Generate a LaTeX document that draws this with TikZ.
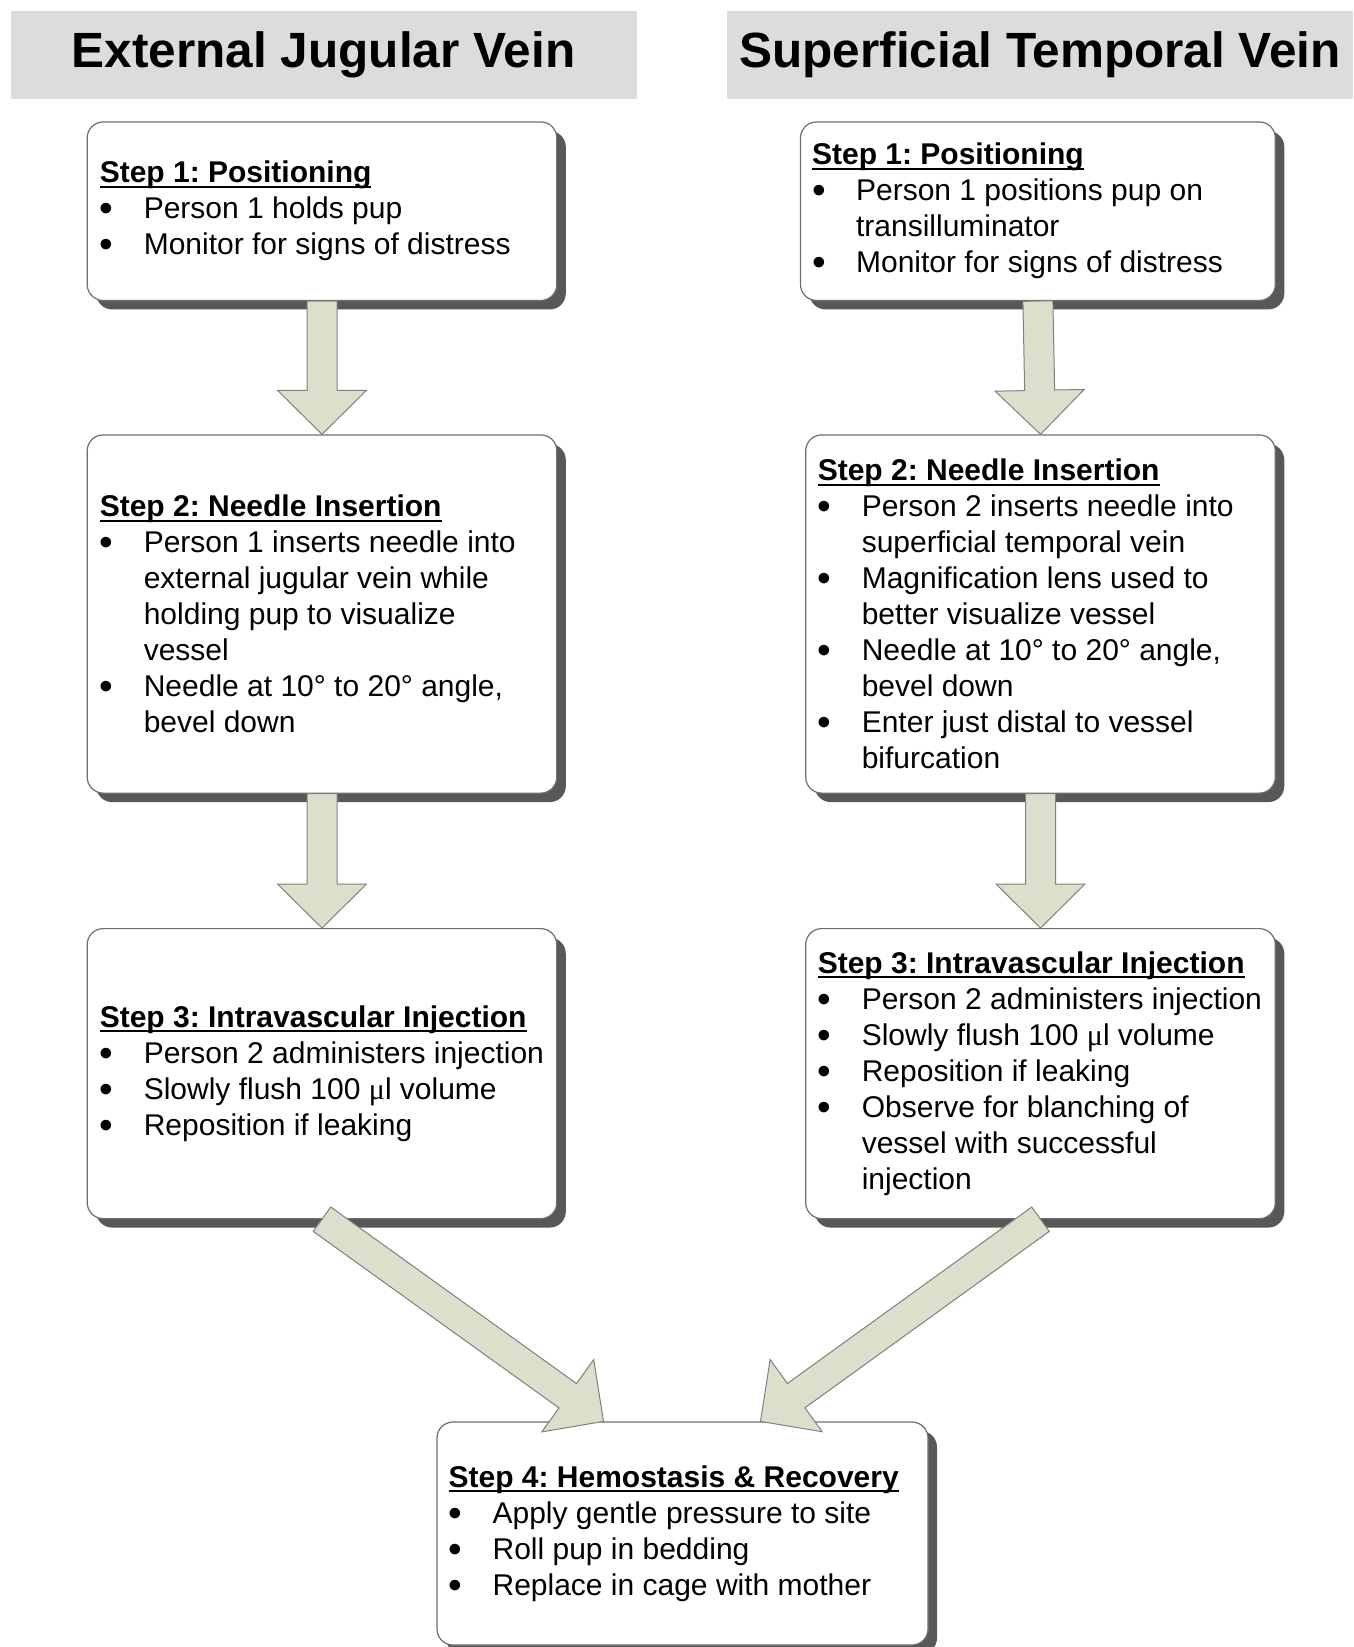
\documentclass[tikz,border=0pt]{standalone}
\usepackage{fontspec}
\setmainfont{Liberation Sans}
\newfontfamily\serifmu{Liberation Serif}
\usetikzlibrary{shadows,calc}
\frenchspacing
\definecolor{hdr}{RGB}{220,220,220}
\definecolor{shad}{RGB}{88,88,88}
\definecolor{arrfill}{RGB}{220,223,204}
\definecolor{arrline}{RGB}{128,128,128}
\definecolor{boxline}{RGB}{110,110,110}
\newsavebox\titlebox
\newcommand{\stitle}[1]{\sbox\titlebox{\bfseries #1}\rlap{\rule[-5pt]{\wd\titlebox}{2pt}}\usebox\titlebox}
\newcommand{\bitem}[1]{\makebox[44pt][l]{\raisebox{-3pt}{\scalebox{1.3}{\textbullet}}}#1}
\newcommand{\cont}[1]{\hspace*{44pt}#1}
\newcommand{\mul}{{\serifmu μ}}
\newcommand{\barrow}[2]{%
  \coordinate (hA) at ($(#2)!44pt!(#1)$);
  \draw[blockarrow] ($(#1)!15pt!90:(#2)$) -- ($(hA)!15pt!90:(#2)$) -- ($(hA)!44.5pt!90:(#2)$) -- (#2)
    -- ($(hA)!44.5pt!-90:(#2)$) -- ($(hA)!15pt!-90:(#2)$) -- ($(#1)!15pt!-90:(#2)$) -- cycle;}
\tikzset{
  stepbox/.style={draw=boxline, line width=1.2pt, fill=white, rounded corners=16pt, inner sep=0pt,
    drop shadow={shadow xshift=9pt, shadow yshift=-9pt, fill=shad, opacity=1}},
  steptext/.style={anchor=west, inner sep=0pt, align=left, font=\fontsize{30}{36}\selectfont\frenchspacing},
  header/.style={fill=hdr, inner sep=0pt, font=\fontsize{49.5}{55}\selectfont\bfseries},
  blockarrow/.style={fill=arrfill, draw=arrline, line width=1pt, line join=miter}
}
\begin{document}
\begin{tikzpicture}[x=1pt,y=-1pt]
\useasboundingbox (0,0) rectangle (1353,1647);
\fill[white] (0,0) rectangle (1353,1647);
% headers
\node[header, minimum width=626pt, minimum height=88pt] (hL) at (323.5,54.6) {External Jugular Vein};
\node[header, minimum width=626pt, minimum height=88pt] (hR) at (1040,54.6) {Superficial Temporal Vein};
% boxes
\node[stepbox, minimum width=469.6pt, minimum height=178.5pt] (L1) at (322,211.2) {};
\node[stepbox, minimum width=469.6pt, minimum height=358.2pt] (L2) at (322,614) {};
\node[stepbox, minimum width=469.6pt, minimum height=290pt] (L3) at (322,1073.6) {};
\node[stepbox, minimum width=474.8pt, minimum height=178.5pt] (R1) at (1037.9,211.2) {};
\node[stepbox, minimum width=469.6pt, minimum height=358.2pt] (R2) at (1040.5,614) {};
\node[stepbox, minimum width=469.6pt, minimum height=290pt] (R3) at (1040.5,1073.6) {};
\node[stepbox, minimum width=491pt, minimum height=223pt] (B) at (682.5,1533.5) {};
% texts
\node[steptext] (L1t) at ([xshift=13pt]L1.west) {\stitle{Step 1: Positioning}\\
\bitem{Person 1 holds pup}\\
\bitem{Monitor for signs of distress}};
\node[steptext] (L2t) at ([xshift=13pt]L2.west) {\stitle{Step 2: Needle Insertion}\\
\bitem{Person 1 inserts needle into}\\
\cont{external jugular vein while}\\
\cont{holding pup to visualize}\\
\cont{vessel}\\
\bitem{Needle at 10° to 20° angle,}\\
\cont{bevel down}};
\node[steptext] (L3t) at ([xshift=13pt]L3.west) {\stitle{Step 3: Intravascular Injection}\\
\bitem{Person 2 administers injection}\\
\bitem{Slowly flush 100 \mul l volume}\\
\bitem{Reposition if leaking}};
\node[steptext] (R1t) at ([xshift=12pt]R1.west) {\stitle{Step 1: Positioning}\\
\bitem{Person 1 positions pup on}\\
\cont{transilluminator}\\
\bitem{Monitor for signs of distress}};
\node[steptext] (R2t) at ([xshift=12.5pt]R2.west) {\stitle{Step 2: Needle Insertion}\\
\bitem{Person 2 inserts needle into}\\
\cont{superficial temporal vein}\\
\bitem{Magnification lens used to}\\
\cont{better visualize vessel}\\
\bitem{Needle at 10° to 20° angle,}\\
\cont{bevel down}\\
\bitem{Enter just distal to vessel}\\
\cont{bifurcation}};
\node[steptext] (R3t) at ([xshift=12.5pt]R3.west) {\stitle{Step 3: Intravascular Injection}\\
\bitem{Person 2 administers injection}\\
\bitem{Slowly flush 100 \mul l volume}\\
\bitem{Reposition if leaking}\\
\bitem{Observe for blanching of}\\
\cont{vessel with successful}\\
\cont{injection}};
\node[steptext] (Bt) at ([xshift=12pt]B.west) {\stitle{Step 4: Hemostasis \& Recovery}\\
\bitem{Apply gentle pressure to site}\\
\bitem{Roll pup in bedding}\\
\bitem{Replace in cage with mother}};
% arrows
\coordinate (tipL) at ([xshift=-79pt]B.north);
\coordinate (tipR) at ([xshift=78pt]B.north);
\barrow{L1.south}{L2.north}
\barrow{L2.south}{L3.north}
\barrow{R1.south}{R2.north}
\barrow{R2.south}{R3.north}
\barrow{L3.south}{tipL}
\barrow{R3.south}{tipR}
\end{tikzpicture}
\end{document}
